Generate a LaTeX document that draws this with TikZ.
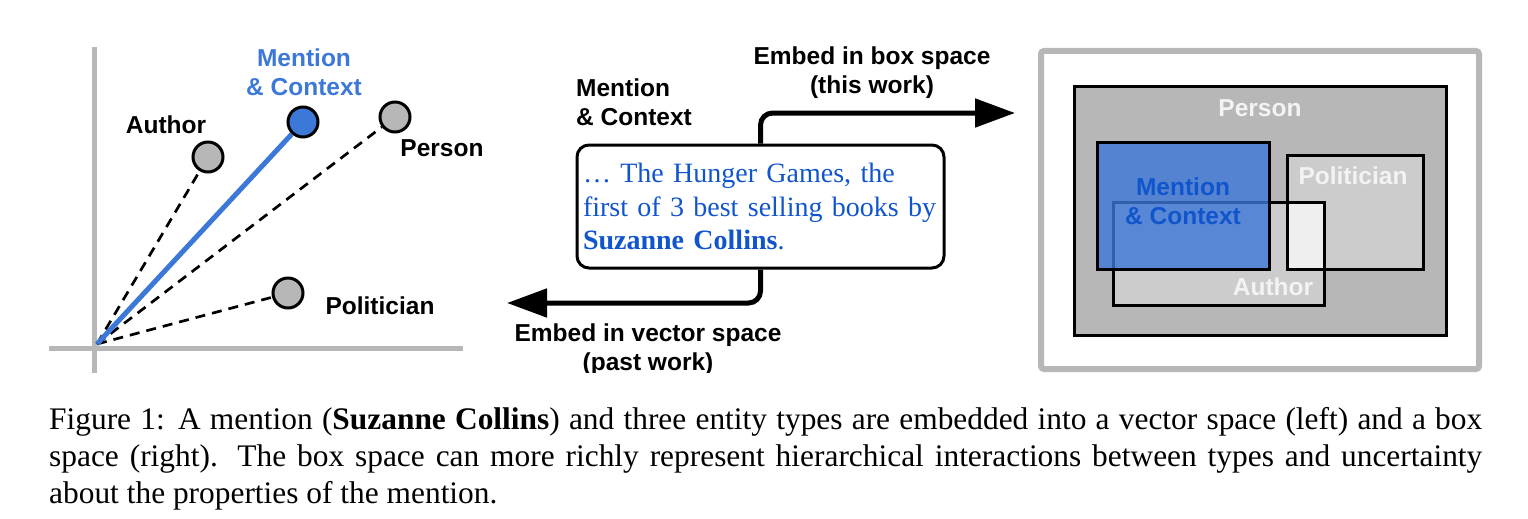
\documentclass[tikz,border=0pt]{standalone}
\usepackage{fontspec}
\setmainfont{Liberation Serif}
\newfontfamily\dsans{Liberation Sans}
\usetikzlibrary{arrows.meta}
\definecolor{axisgray}{HTML}{B7B7B7}
\definecolor{mblue}{HTML}{3C78D8}
\definecolor{tblue}{HTML}{1155CC}
\definecolor{lgray}{HTML}{CCCCCC}
\definecolor{xgray}{HTML}{EFEFEF}
\definecolor{wlabel}{HTML}{F3F3F3}
\tikzset{
  lbl/.style={font=\dsans\bfseries\fontsize{24.5}{29}\selectfont, inner sep=0pt, align=center},
  axisline/.style={line width=5pt, draw=axisgray},
  pt/.style={circle, draw=black, line width=3pt, minimum size=30pt, inner sep=0pt, fill=axisgray},
  simline/.style={line width=2.7pt, dash pattern=on 10pt off 7pt},
  flow/.style={line width=5pt, rounded corners=12pt, -{Triangle[length=40pt,width=28pt]}},
  region/.style={draw=black, line width=3pt},
}
\begin{document}
\begin{tikzpicture}[x=1pt,y=-1pt]
\useasboundingbox (0,0) rectangle (1528,519);
\begin{scope}
\clip (0,0) rectangle (1528,372);
% ---------- vector space ----------
\draw[axisline] (94,47) -- (94,373);
\draw[axisline] (49,348) -- (463,348);
\coordinate (o) at (97,344);
\node[pt] (author) at (208,157) {};
\node[pt, fill=mblue] (mention) at (303,122) {};
\node[pt] (person) at (395,117) {};
\node[pt] (politician) at (288,293) {};
\draw[simline] (o) -- (author);
\draw[simline] (o) -- (person);
\draw[simline] (o) -- (politician);
\draw[line width=5pt, mblue] (o) -- (mention);
\node[lbl, text=mblue] (lmention) at (304,72.5) {Mention\\\& Context};
\node[lbl] (lauthor) at (166,125) {Author};
\node[lbl] (lperson) at (442,148) {Person};
\node[lbl] (lpolitician) at (380,306) {Politician};
% ---------- context ----------
\node[draw=black, line width=3pt, rounded corners=12pt, minimum width=367pt, minimum height=123pt,
      inner xsep=6pt, inner ysep=0pt, text width=355pt, align=left, text=tblue,
      font=\fontsize{28}{33.5}\selectfont] (ctx) at (760.5,206.5)
  {… The Hunger Games, the\\first of 3 best selling books by\\\textbf{Suzanne Collins}.};
\node[lbl, align=left, anchor=west] (cmention) at (576,102) {Mention\\\& Context};
\coordinate (boxend) at (1015,113);
\coordinate (vecend) at (507,303);
\draw[flow] (ctx.north) |- (boxend);
\draw[flow] (ctx.south) |- (vecend);
\node[lbl] (ebox) at (872,72.5) {Embed in box space\\(this work)};
\node[lbl] (evec) at (648,350) {Embed in vector space\\(past work)};
% ---------- box space ----------
\draw[line width=6pt, axisgray, rounded corners=3pt] (1041,51) rectangle (1479,369);
\draw[region, fill=axisgray] (1074,86) rectangle (1446,335);
\draw[region, fill=lgray] (1113,202) rectangle (1324,305);
\draw[region, fill=lgray] (1287,155) rectangle (1423,269);
\fill[xgray] (1287,202) rectangle (1324,269);
\draw[region] (1113,202) rectangle (1324,305);
\draw[region] (1287,155) rectangle (1423,269);
\fill[mblue, fill opacity=0.8] (1097,142) rectangle (1269,269);
\draw[region] (1097,142) rectangle (1269,269);
\node[lbl, text=wlabel] (bperson) at (1260,108) {Person};
\node[lbl, text=wlabel] (bpolitician) at (1353,176) {Politician};
\node[lbl, text=wlabel] (bauthor) at (1273,287) {Author};
\node[lbl, text=tblue] (bmention) at (1183,201.5) {Mention\\\& Context};
\end{scope}
% ---------- caption ----------
\node[anchor=north west, text width=1433pt, align=justify, inner sep=0pt,
      font=\fontsize{31.4}{37}\selectfont] (cap) at (49,407)
  {Figure 1: A mention (\textbf{Suzanne Collins}) and three entity types are embedded into a vector space (left) and a box\linebreak
   space (right). The box space can more richly represent hierarchical interactions between types and uncertainty\linebreak
   about the properties of the mention.};
\end{tikzpicture}
\end{document}
